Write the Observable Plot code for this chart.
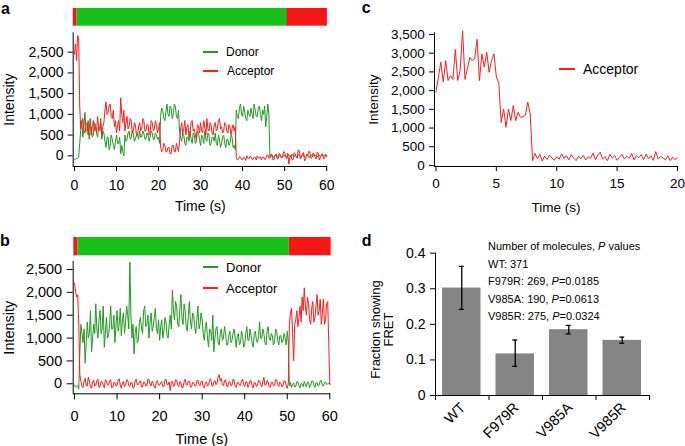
<!DOCTYPE html>
<html><head><meta charset="utf-8">
<script src="https://cdn.jsdelivr.net/npm/d3@7"></script>
<script src="https://cdn.jsdelivr.net/npm/@observablehq/plot@0.6"></script>
<style>
html,body{margin:0;padding:0;background:#fff;}
#fig{position:relative;width:685px;height:446px;overflow:hidden;font-family:"Liberation Sans",Arial,Helvetica,sans-serif;color:#000;}
.panel-letter{font-weight:bold;font-size:16px;line-height:1;}
.legend{display:flex;align-items:center;white-space:nowrap;line-height:1;}
.legend .sw{display:inline-block;height:2px;}
.note{font-size:11px;line-height:1;white-space:nowrap;}
</style></head>
<body><div id="fig"></div>
<script>
// ---------- data ----------
const dtA = 0.25;
const donorA = [-80,-90,-60,-70,-40,300,650,850,450,700,
1050,600,600,850,400,650,700,450,500,800,
750,550,450,700,650,900,400,600,550,350,
200,450,450,150,250,500,400,250,150,350,
500,300,300,450,50,250,100,0,500,350,
400,550,600,400,450,600,550,350,400,500,
500,400,600,450,450,600,550,400,400,550,
500,350,450,600,550,400,400,550,500,400,
450,300,950,1150,1100,900,850,1050,1250,1000,
950,1200,1150,900,1000,1250,1200,950,900,1100,
600,450,350,550,500,300,250,450,450,350,
600,400,300,550,500,300,350,600,550,400,
250,500,450,300,600,400,350,550,500,250,
300,450,450,350,550,300,250,500,400,200,
300,450,500,300,200,400,400,250,300,500,
450,200,250,150,1100,950,900,1150,1250,1000,
950,1200,1050,900,850,1100,1000,950,1150,1000,
900,1250,1100,950,950,1150,1200,1000,850,1100,
1000,1200,700,950,1250,1000,-30,10,30,-40,
-20,20,40,-30,-10,30,20,-20,-40,10,
10,-30,-30,20,30,-10,-20,40,0,-30,
20,-10,-30,30,10,-20,-20,20,30,-30,
-10,10,20,-40,-30,20,0,-20,20,30,
-10,-30,10,20,-20,0,30,-10,0,20,
-10];
const acceptorA = [2450,2700,2300,2900,2850,1200,650,800,900,600,
550,750,800,500,650,900,500,700,850,600,
700,550,950,700,600,800,500,700,800,1100,
1300,1000,1050,1200,1250,950,900,1100,700,850,
550,750,850,600,1400,1000,800,1100,600,800,
950,650,700,900,850,550,600,800,750,500,
500,700,800,600,650,900,850,600,600,750,
750,500,550,850,800,600,650,850,750,550,
650,800,200,100,150,300,250,100,100,200,
200,50,50,250,250,100,100,300,200,100,
350,650,800,550,650,850,500,700,750,450,
550,800,850,600,650,500,400,750,700,550,
800,600,550,850,700,500,900,650,600,800,
750,550,500,750,800,600,650,850,900,650,
700,550,600,800,750,600,550,750,700,500,
650,750,600,700,-50,-100,-80,-20,-30,-90,
-100,-40,-50,-110,0,-60,-70,-10,-20,-80,
-90,-30,-40,-100,0,-50,-60,-20,-100,-40,
-30,-90,-80,10,20,-60,-50,40,-20,-100,
-90,20,30,-80,-60,60,0,-50,-40,100,
80,-20,-70,60,-200,-40,20,-90,-100,70,
50,-30,-60,150,120,-80,-30,50,80,-120,
-100,40,0,110,90,-60,-50,70,30,-30,
-80,90,60,-100,-40,30,50,-70,-60,40,
-20];
const xDomainA = [-0.3, 60.2];
const yDomainA = [-258, 2968];
const xTicksA = [0,10,20,30,40,50,60];
const yTicksA = [0,500,1000,1500,2000,2500];
const phaseStartA = [-0.3, 0.55, 50.5];
const phaseEndA = [0.55, 50.5, 60.2];
const phaseLaserA = ["red","green","red"];

const dtB = 0.25;
const donorB = [-30,-70,-60,-40,-120,700,1300,1100,900,1200,
450,900,1350,1000,1100,1600,700,1000,1300,1100,
1750,1200,1000,1400,1600,1100,1200,1700,800,1100,
1450,1000,1050,1300,1700,1200,1200,1500,900,1300,
1600,1150,1300,1650,1050,1400,1550,1100,1350,1700,
1500,1200,2660,1500,1000,1300,650,1100,1250,900,
950,1350,1450,1200,1100,1600,1700,1250,1300,1500,
1000,1350,1550,1150,1250,1450,1650,1200,1100,1400,
950,1250,1400,1000,1150,1450,1350,1050,1000,1300,
1500,1200,2050,1600,1400,1800,1700,1300,1250,1650,
1950,1450,1300,1750,1600,1250,1150,1500,1800,1350,
1200,1550,1500,1250,1100,1400,1700,1200,1300,1550,
1400,1100,950,1250,1350,1000,800,1200,1150,950,
1500,700,1000,1200,1250,900,850,1100,1200,950,
1000,1250,1100,850,850,1050,1150,900,950,1100,
1200,1000,800,1050,1100,850,900,1150,1050,800,
850,1100,1250,950,950,1200,1050,900,800,1100,
1150,950,900,1050,1350,1000,1000,1200,1100,900,
850,1150,1250,1000,950,1100,1050,850,900,1200,
1150,950,850,1050,1050,900,950,1100,1000,850,
1150,900,-50,30,-80,-20,20,-70,-60,50,
40,-40,-90,10,0,-60,50,-20,-70,40,
30,-80,-40,60,60,-30,-80,20,20,-50,
-30,70,70,-40,-50,30,40,-20,0,10,
0];
const acceptorB = [2200,2000,1900,1950,1300,200,50,-60,-80,60,
120,-40,-50,150,60,-70,-100,40,80,-50,
-30,70,100,-80,-60,50,40,-30,-90,90,
70,-20,-20,60,90,-90,-70,30,30,-50,
-40,80,110,-30,-100,20,50,-60,-30,90,
80,-40,-60,30,20,-100,-80,60,100,-20,
-20,50,60,-70,-70,40,30,-50,-40,100,
90,-10,-50,60,10,-80,-90,40,70,-30,
-30,20,50,-60,-60,80,100,-20,-20,40,
-150,30,60,-50,-40,90,80,-30,-60,50,
30,-90,-80,40,100,-20,-30,60,50,-70,
-70,30,20,-40,-50,70,80,-20,-40,50,
60,-60,-90,20,40,-50,-20,90,110,-30,
-60,40,70,-20,20,150,200,60,120,-20,
-40,60,90,-50,-70,30,50,-40,-30,100,
80,-60,-80,20,30,-30,-40,70,100,-20,
-60,40,40,-80,-20,60,70,-40,-90,30,
20,-60,-30,80,60,-20,-70,40,140,-30,
-20,70,50,-60,-80,30,30,-40,-40,90,
80,-20,-60,40,10,-70,-30,60,60,-40,
-100,20,1300,1550,1650,1100,500,1300,1400,1600,
1250,1450,1700,1350,1900,1600,2100,1700,1500,1900,
1750,1400,1300,1650,1800,1350,1450,1700,1950,1500,
1600,1850,1300,1550,1850,1300,1400,1750,1800,900,
-20];
const xDomainB = [-0.31, 60.16];
const yDomainB = [-219, 2675];
const xTicksB = [0,10,20,30,40,50,60];
const yTicksB = [0,500,1000,1500,2000,2500];
const phaseStartB = [-0.16, 0.78, 50.46];
const phaseEndB = [0.78, 50.46, 60.32];
const phaseLaserB = ["red","green","red"];

const dtC = 0.2;
const acceptorC = [1960,2360,2760,2230,2800,2270,2400,2300,3100,2270,
2540,3600,2300,2580,2890,2800,2850,3370,2270,2980,
2630,3030,2490,2800,2980,2360,2200,1150,1510,1020,
1510,1200,1600,1200,1420,1290,1300,1340,1690,1380,
130,320,180,300,120,250,160,280,200,140,
230,170,310,190,260,150,290,200,130,240,
180,270,150,230,190,330,160,280,350,170,
240,130,300,200,260,140,220,300,170,250,
190,320,150,270,210,290,160,300,180,260,
140,370,170,240,200,150,260,130,220,160,
210];
const xDomainC = [-0.124, 20];
const yDomainC = [-27, 3545];
const xTicksC = [0,5,10,15,20];
const yTicksC = [0,500,1000,1500,2000,2500,3000,3500];

const categories = ["WT","F979R","V985A","V985R"];
const fraction = [0.302, 0.117, 0.185, 0.155];
const errLow = [0.242, 0.082, 0.173, 0.147];
const errHigh = [0.363, 0.156, 0.197, 0.164];
const molecules = [371, 269, 190, 275];
const pValues = ["", "0.0185", "0.0613", "0.0324"];
const yTicksD = [0, 0.1, 0.2, 0.3, 0.4];
const yDomainD = [0, 0.4];

// ---------- style ----------
const FONT = '"Liberation Sans", Arial, Helvetica, sans-serif';
const GREEN = "#1f9a1f";
const RED = "#ff1c1c";
const LASER = {green: "#19c019", red: "#f51616"};
const BARGRAY = "#858585";

const fig = document.getElementById("fig");
function put(el, left, top) {
  el.style.position = "absolute";
  el.style.left = left + "px";
  el.style.top = top + "px";
  fig.appendChild(el);
  return el;
}
function div(html, cls, style) {
  const d = document.createElement("div");
  if (cls) d.className = cls;
  d.innerHTML = html;
  Object.assign(d.style, style || {});
  return d;
}
function legendRow(left, cy, label, color, fs, swW, gap) {
  const row = div("", "legend", {height: "16px", fontSize: fs + "px"});
  const sw = document.createElement("span");
  sw.className = "sw";
  sw.style.width = swW + "px";
  sw.style.background = color;
  sw.style.marginRight = gap + "px";
  const tx = document.createElement("span");
  tx.textContent = label;
  row.append(sw, tx);
  put(row, left, Math.round(cy - 8));
}
const baseStyle = {fontFamily: FONT, fontSize: "14px", background: "transparent", overflow: "visible", color: "#000"};
const fmtComma = d3.format(",");

function rows(values, dt) { return values.map((v, i) => ({t: i * dt, v})); }

function tracePlot(cfg) {
  return Plot.plot({
    width: cfg.width, height: cfg.height,
    marginLeft: cfg.ml, marginRight: cfg.mr, marginTop: cfg.mt, marginBottom: cfg.mb,
    style: baseStyle,
    x: {domain: cfg.xDomain},
    y: {domain: cfg.yDomain},
    marks: [
      ...cfg.series.map(s => Plot.line(rows(s.values, cfg.dt), {x: "t", y: "v", stroke: s.color, strokeWidth: 1})),
      Plot.ruleX([cfg.xDomain[0]], {stroke: "#000", strokeWidth: 1}),
      Plot.ruleY([cfg.yDomain[0]], {stroke: "#000", strokeWidth: 1}),
      Plot.axisX({ticks: cfg.xTicks, tickSize: cfg.tick, tickPadding: cfg.xPad, fontSize: cfg.fs,
        label: "Time (s)", labelAnchor: "center", labelArrow: "none", labelOffset: cfg.xLabelOffset}),
      Plot.axisY({ticks: cfg.yTicks, tickFormat: fmtComma, tickSize: cfg.tick, tickPadding: cfg.yPad, fontSize: cfg.fs,
        label: "Intensity", labelAnchor: "center", labelArrow: "none", labelOffset: cfg.yLabelOffset})
    ]
  });
}
function laserPlot(cfg) {
  const ph = cfg.starts.map((s, i) => ({s, e: cfg.ends[i], c: cfg.lasers[i]}));
  return Plot.plot({
    width: cfg.width, height: cfg.height,
    marginLeft: cfg.ml, marginRight: cfg.mr, marginTop: 0, marginBottom: 0,
    style: baseStyle,
    x: {domain: cfg.xDomain, axis: null},
    marks: [Plot.rect(ph, {x1: "s", x2: "e", fill: d => LASER[d.c]})]
  });
}

// ---------- panel a ----------
put(laserPlot({width: 340, height: 17.7, ml: 72.7, mr: 13, xDomain: xDomainA,
  starts: phaseStartA, ends: phaseEndA, lasers: phaseLaserA}), 0, 8.3);
put(tracePlot({width: 340, height: 185, ml: 72.7, mr: 13, mt: 2.3, mb: 49,
  xDomain: xDomainA, yDomain: yDomainA, xTicks: xTicksA, yTicks: yTicksA, dt: dtA,
  series: [{values: donorA, color: GREEN}, {values: acceptorA, color: RED}],
  tick: 5, xPad: 8.3, yPad: 4.7, fs: 14, xLabelOffset: 44, yLabelOffset: 69.4}), 0, 30);
legendRow(203, 52, "Donor", GREEN, 12, 15, 8);
legendRow(203, 71, "Acceptor", RED, 12, 15, 9);
put(div("a", "panel-letter"), 1, 1);

// ---------- panel b ----------
put(laserPlot({width: 340, height: 18.3, ml: 72.7, mr: 10, xDomain: xDomainB,
  starts: phaseStartB, ends: phaseEndB, lasers: phaseLaserB}), 0, 236.7);
put(tracePlot({width: 340, height: 188, ml: 72.7, mr: 10, mt: 3, mb: 52.7,
  xDomain: xDomainB, yDomain: yDomainB, xTicks: xTicksB, yTicks: yTicksB, dt: dtB,
  series: [{values: donorB, color: GREEN}, {values: acceptorB, color: RED}],
  tick: 6, xPad: 10.7, yPad: 5, fs: 14.5, xLabelOffset: 50, yLabelOffset: 69.4}), 0, 258);
legendRow(203, 267, "Donor", GREEN, 13, 15, 8);
legendRow(203, 288, "Acceptor", RED, 13, 15, 8);
put(div("b", "panel-letter"), 0, 233.2);

// ---------- panel c ----------
put(tracePlot({width: 330, height: 200, ml: 79, mr: 8, mt: 12.3, mb: 54,
  xDomain: xDomainC, yDomain: yDomainC, xTicks: xTicksC, yTicks: yTicksC, dt: dtC,
  series: [{values: acceptorC, color: RED}],
  tick: 5, xPad: 7.3, yPad: 4.7, fs: 13.5, xLabelOffset: 45, yLabelOffset: 65.7}), 355, 20);
legendRow(559, 69, "Acceptor", RED, 14, 16, 8);
put(div("c", "panel-letter"), 361.7, 0);

// ---------- panel d ----------
const idx = categories.map((c, i) => i);
const edges = [0, 1, 2, 3, 4];
const plotD = Plot.plot({
  width: 330, height: 206,
  marginLeft: 80, marginRight: 36, marginTop: 12.7, marginBottom: 51,
  style: baseStyle,
  x: {domain: [0, categories.length]},
  y: {domain: yDomainD},
  marks: [
    Plot.rect(idx, {x1: i => i, x2: i => i + 1, y1: () => 0, y2: i => fraction[i], fill: BARGRAY, insetLeft: 7, insetRight: 8}),
    Plot.ruleX(idx, {x: i => i + 0.5, y1: i => errLow[i], y2: i => errHigh[i], stroke: "#000", strokeWidth: 1.3, dx: -0.5}),
    Plot.ruleY(idx, {x1: i => i + 0.5, x2: i => i + 0.5, y: i => errLow[i], stroke: "#000", strokeWidth: 1.3, insetLeft: -2.5, insetRight: -2.5, dx: -0.5}),
    Plot.ruleY(idx, {x1: i => i + 0.5, x2: i => i + 0.5, y: i => errHigh[i], stroke: "#000", strokeWidth: 1.3, insetLeft: -2.5, insetRight: -2.5, dx: -0.5}),
    Plot.ruleX([0], {stroke: "#000"}),
    Plot.ruleY([yDomainD[0]], {stroke: "#000"}),
    Plot.axisX({ticks: edges, tickSize: 5, tickFormat: () => "", label: null}),
    Plot.axisY({ticks: yTicksD, tickFormat: d => d === 0 ? "0" : d3.format(".1f")(d), tickSize: 5, tickPadding: 5, fontSize: 14, label: null}),
    Plot.text(idx, {x: i => i + 0.5, frameAnchor: "bottom", text: i => categories[i], rotate: -45, textAnchor: "end", dx: 4, dy: 13, fontSize: 14.5})
  ]
});
put(plotD, 355, 240);
const yl = div("Fraction showing<br>FRET", "", {width: "130px", height: "27px", textAlign: "center", fontSize: "13px", lineHeight: "13.3px", transform: "rotate(-90deg)", whiteSpace: "nowrap"});
put(yl, 381.7 - 65, 329 - 13.5);
const noteLines = ["Number of molecules, <i>P</i> values"].concat(
  categories.map((c, i) => c + ": " + molecules[i] + (pValues[i] ? ", <i>P</i>=" + pValues[i] : "")));
const noteCenters = [246.7, 264.3, 281.7, 299.3, 316.7];
noteLines.forEach((t, i) => put(div(t, "note"), 488, noteCenters[i] - 5.4));
put(div("d", "panel-letter"), 361.7, 233.2);
</script>
</body></html>
